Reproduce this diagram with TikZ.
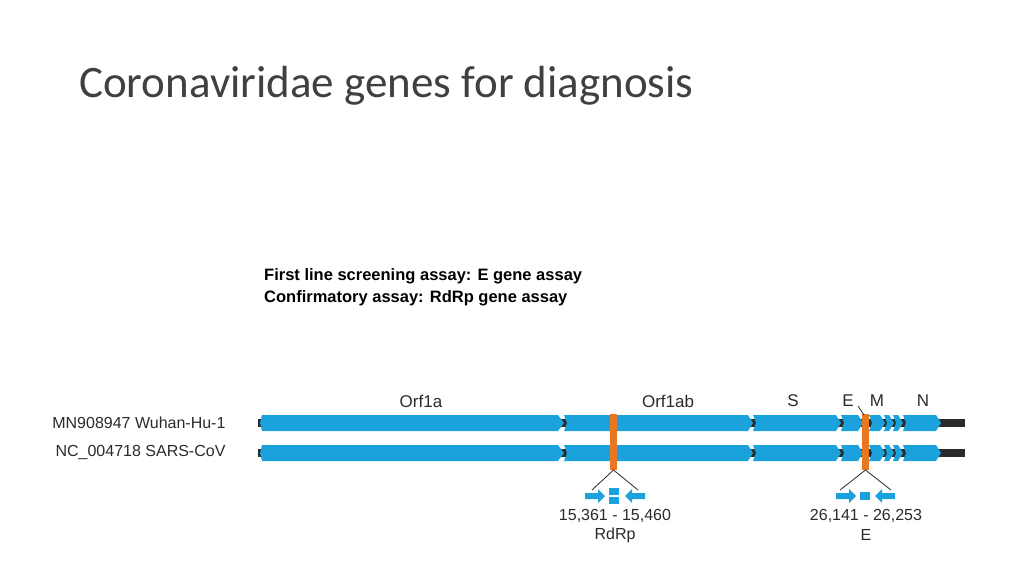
\documentclass[tikz,border=0pt]{standalone}
\usepackage{fontspec}
\setmainfont{Liberation Sans}
\newfontfamily\titlefont{Carlito}
\definecolor{gblue}{HTML}{1BA1DB}
\definecolor{gorange}{HTML}{E87722}
\definecolor{gdark}{HTML}{2B2B2B}
\newcommand{\gseg}[3]{\fill[gblue] (#1-1,#3-8) -- (#2-5,#3-8) -- (#2,#3) -- (#2-5,#3+8) -- (#1-1,#3+8) -- (#1+2,#3) -- cycle;}
\begin{document}
\begin{tikzpicture}[x=1pt,y=-1pt,
  lbl/.style={font=\fontsize{16}{18}\selectfont, text=gdark},
  gl/.style={font=\fontsize{17}{19}\selectfont, text=gdark},
  conn/.style={draw=gdark, line width=0.8pt}]
\useasboundingbox (0,0) rectangle (1024,576);
\fill[white] (0,0) rectangle (1024,576);
\node[anchor=west, font=\titlefont\fontsize{45}{50}\selectfont, text=gdark!90, inner sep=0pt] (title) at (79,86) {Coronaviridae genes for diagnosis};
\node[anchor=north west, align=left, font=\bfseries\fontsize{16.5}{22}\selectfont, inner sep=0pt] (assay) at (264,268) {First line screening assay: E gene assay\\Confirmatory assay: RdRp gene assay};
\foreach \y in {423,453}{
  \fill[gdark] (258,\y-4) rectangle (965,\y+4);
  \fill[gblue] (262,\y-8) -- (558,\y-8) -- (564,\y) -- (558,\y+8) -- (262,\y+8) -- (260,\y) -- cycle;
  \gseg{565}{753}{\y}
  \gseg{754}{841}{\y}
  \gseg{842}{863}{\y}
  \gseg{870}{885}{\y}
  \gseg{885}{894}{\y}
  \gseg{894}{903}{\y}
  \gseg{904}{941}{\y}
}
\node[anchor=east, lbl] (l1) at (229,423) {MN908947 Wuhan-Hu-1};
\node[anchor=east, lbl] (l2) at (229,452) {NC\_004718 SARS-CoV};
\node[gl] (orf1a) at (421,401) {Orf1a};
\node[gl] (orf1ab) at (668,401) {Orf1ab};
\node[gl] (s) at (793,401) {S};
\node[gl] (e) at (848,401) {E};
\node[gl] (m) at (877,401) {M};
\node[gl] (n) at (923,401) {N};
\fill[gorange] (610,414) rectangle (617,470);
\fill[gorange] (862,414) rectangle (869,470);
\coordinate (rb) at (613.5,470);
\coordinate (eb) at (865.5,470);
\coordinate (rl) at (592,490); \coordinate (rr) at (638,490);
\coordinate (el) at (840,490); \coordinate (er) at (891,490);
\draw[conn] (rl) -- (rb) -- (rr);
\draw[conn] (el) -- (eb) -- (er);
\draw[conn] (858,406) -- (864,415);
\newcommand{\rarr}[2]{\fill[gblue] (#1,#2-3) -- (#1+13,#2-3) -- (#1+13,#2-7) -- (#1+20,#2) -- (#1+13,#2+7) -- (#1+13,#2+3) -- (#1,#2+3) -- cycle;}
\newcommand{\larr}[2]{\fill[gblue] (#1,#2-3) -- (#1-13,#2-3) -- (#1-13,#2-7) -- (#1-20,#2) -- (#1-13,#2+7) -- (#1-13,#2+3) -- (#1,#2+3) -- cycle;}
\rarr{585}{496}
\fill[gblue] (609,488) rectangle (619,495);
\fill[gblue] (609,497) rectangle (619,504);
\larr{645}{496}
\rarr{836}{496}
\fill[gblue] (860,492) rectangle (870,500);
\larr{895}{496}
\node[lbl] (rd1) at (615,516) {15,361 - 15,460};
\node[lbl] (rd2) at (615,535) {RdRp};
\node[lbl] (e1) at (866,516) {26,141 - 26,253};
\node[lbl] (e2) at (866,535) {E};
\end{tikzpicture}
\end{document}
